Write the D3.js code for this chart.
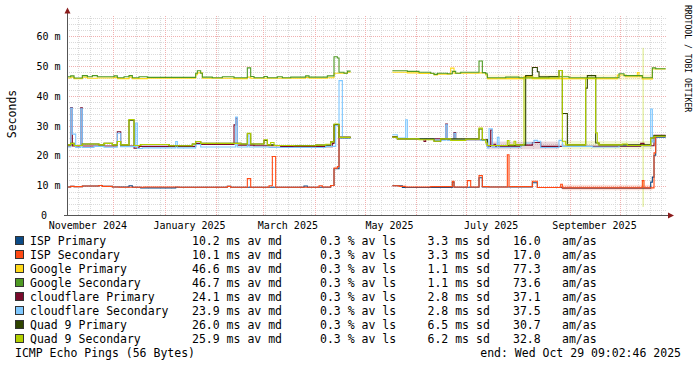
<!DOCTYPE html>
<html><head><meta charset="utf-8">
<script src="https://cdn.jsdelivr.net/npm/d3@7"></script>
<style>
html,body{margin:0;padding:0;background:#fff;}
svg{display:block;}
text{font-family:"DejaVu Sans Mono",monospace;fill:#000;}
</style></head><body>
<svg id="chart" width="697" height="367"></svg>
<script>
// ---------------- DATA ----------------
const domainStart = "2024-11-03T19";
const domainEnd = "2025-10-29T19";
const yMax = 67;
const yTicks = [0, 10, 20, 30, 40, 50, 60];
const yTickLabels = ["0", "10 m", "20 m", "30 m", "40 m", "50 m", "60 m"];
const xLabelDates = ["2024-11-16", "2025-01-16", "2025-03-16", "2025-05-16", "2025-07-16", "2025-09-16"];
const xLabelTexts = ["November 2024", "January 2025", "March 2025", "May 2025", "July 2025", "September 2025"];

const names = ["ISP Primary", "ISP Secondary", "Google Primary", "Google Secondary",
  "cloudflare Primary", "cloudflare Secondary", "Quad 9 Primary", "Quad 9 Secondary"];
const colors = ["#0b4a86", "#ff4a14", "#ffd91a", "#4f9a24", "#7a0a2c", "#7fc8ff", "#2f4400", "#b2d000"];
const medians = [10.2, 10.1, 46.6, 46.7, 24.1, 23.9, 26.0, 25.9];
const losses = [0.3, 0.3, 0.3, 0.3, 0.3, 0.3, 0.3, 0.3];
const sds = [3.3, 3.3, 1.1, 1.1, 2.8, 2.8, 6.5, 6.2];
const amas = [16.0, 17.0, 77.3, 73.6, 37.1, 37.5, 30.7, 32.8];

// median latency in ms, step breakpoints [date, value]; null = no data
const ispPrimary = [["2024-11-04",9.4],["2024-11-06",9.6],["2024-11-08",9.5],["2024-11-13",9.7],["2024-11-23",9.9],["2024-11-25",9.6],["2024-12-01",9.4],["2024-12-11",9.8],["2024-12-13",9.3],["2024-12-18",9.1],["2025-01-08",9.3],["2025-02-08",9.6],["2025-02-10",9.3],["2025-03-26",9.7],["2025-03-28",9.3],["2025-04-11",9.9],["2025-04-13",15.5],["2025-04-16",25.8],["2025-04-23",null],
  ["2025-05-18",9.8],["2025-05-24",9.2],["2025-06-23",11.0],["2025-06-24",9.3],["2025-07-09",12.5],["2025-07-11",9.4],["2025-08-10",10.8],["2025-08-13",9.2],["2025-08-28",9.0],["2025-10-20",11.0],["2025-10-21",12.7],["2025-10-22",20.0],["2025-10-23",26.1],["2025-10-29",26.1]];
const ispSecondary = [["2024-11-04",9.4],["2024-11-06",9.6],["2024-11-08",9.5],["2024-11-13",9.7],["2024-11-23",9.9],["2024-11-25",9.6],["2024-12-01",9.4],["2024-12-05",9.3],["2024-12-20",9.4],["2025-01-10",9.3],["2025-02-08",9.6],["2025-02-10",9.3],["2025-02-20",12.2],["2025-02-22",9.3],["2025-03-05",9.8],["2025-03-07",19.6],["2025-03-09",9.3],["2025-04-04",9.8],["2025-04-06",9.4],["2025-04-11",9.9],["2025-04-13",15.7],["2025-04-15",16.2],["2025-04-16",26.0],["2025-04-23",null],
  ["2025-05-18",9.8],["2025-05-22",9.6],["2025-05-26",9.4],["2025-06-10",9.5],["2025-06-23",11.3],["2025-06-24",9.4],["2025-07-02",11.5],["2025-07-04",9.4],["2025-07-09",13.2],["2025-07-11",9.5],["2025-07-15",9.4],["2025-07-26",20.2],["2025-07-27",9.5],["2025-08-10",11.3],["2025-08-13",9.2],["2025-08-27",10.3],["2025-08-28",9.1],["2025-10-15",11.5],["2025-10-16",9.1],["2025-10-22",20.8],["2025-10-23",26.3],["2025-10-29",26.3]];
const googlePrimary = [["2024-11-04",45.9],["2024-11-06",46.2],["2024-11-08",45.7],["2024-11-13",46.2],["2024-11-16",45.8],["2024-11-22",45.9],["2024-12-02",46.1],["2024-12-04",45.7],["2024-12-11",46.2],["2024-12-13",45.7],["2024-12-22",45.8],["2025-01-20",47.0],["2025-01-21",47.6],["2025-01-24",45.8],["2025-02-12",45.7],["2025-02-20",46.2],["2025-02-22",45.8],["2025-03-27",46.1],["2025-03-29",45.8],["2025-04-09",46.0],["2025-04-13",47.5],["2025-04-21",47.8],["2025-04-23",null],
  ["2025-05-18",47.8],["2025-05-27",47.6],["2025-06-03",47.4],["2025-06-12",46.9],["2025-06-14",47.2],["2025-06-22",49.2],["2025-06-24",47.5],["2025-07-09",47.6],["2025-07-13",46.9],["2025-07-14",45.7],["2025-08-05",46.4],["2025-08-10",45.7],["2025-09-30",46.9],["2025-10-05",46.3],["2025-10-12",47.7],["2025-10-13",46.3],["2025-10-15",45.6],["2025-10-21",48.9],["2025-10-29",48.9]];
const googleSecondary = [["2024-11-04",46.3],["2024-11-06",46.6],["2024-11-08",45.9],["2024-11-13",46.7],["2024-11-16",46.3],["2024-11-19",46.7],["2024-11-22",46.3],["2024-12-02",46.6],["2024-12-04",46.0],["2024-12-08",46.3],["2024-12-11",46.7],["2024-12-13",46.0],["2024-12-17",46.3],["2024-12-22",46.1],["2025-01-20",47.5],["2025-01-21",48.3],["2025-01-23",47.5],["2025-01-24",46.2],["2025-01-30",46.0],["2025-02-05",46.3],["2025-02-12",46.0],["2025-02-20",49.3],["2025-02-22",46.4],["2025-02-24",46.0],["2025-03-02",46.4],["2025-03-04",46.0],["2025-03-10",46.3],["2025-03-13",46.0],["2025-03-18",46.2],["2025-03-27",46.6],["2025-03-29",46.2],["2025-04-09",46.6],["2025-04-13",53.0],["2025-04-15",52.6],["2025-04-16",47.8],["2025-04-19",47.5],["2025-04-21",48.2],["2025-04-23",null],
  ["2025-05-18",48.3],["2025-05-27",48.1],["2025-06-03",47.8],["2025-06-10",47.5],["2025-06-12",47.1],["2025-06-14",47.5],["2025-06-20",47.3],["2025-06-23",48.1],["2025-06-25",47.5],["2025-06-28",47.8],["2025-07-09",51.6],["2025-07-11",47.7],["2025-07-13",47.3],["2025-07-14",46.0],["2025-07-25",46.2],["2025-08-02",46.0],["2025-08-20",46.3],["2025-09-01",46.0],["2025-10-01",47.3],["2025-10-04",46.7],["2025-10-15",46.0],["2025-10-21",49.3],["2025-10-23",49.0],["2025-10-29",49.0]];
const cloudflarePrimary = [["2024-11-04",23.1],["2024-11-06",36.0],["2024-11-07",23.1],["2024-11-12",35.9],["2024-11-13",23.1],["2024-12-04",27.9],["2024-12-06",23.1],["2024-12-14",22.4],["2024-12-17",23.0],["2025-01-20",24.0],["2025-01-23",23.6],["2025-02-12",30.2],["2025-02-13",32.5],["2025-02-14",23.4],["2025-02-24",23.2],["2025-03-12",22.9],["2025-04-12",24.0],["2025-04-13",30.0],["2025-04-16",26.0],["2025-04-23",null],
  ["2025-05-18",26.3],["2025-05-21",25.6],["2025-06-06",24.6],["2025-06-07",25.5],["2025-06-19",30.5],["2025-06-20",25.2],["2025-06-24",27.6],["2025-06-25",25.2],["2025-07-14",23.0],["2025-07-16",28.5],["2025-07-17",23.2],["2025-07-18",23.7],["2025-07-19",23.0],["2025-08-03",23.4],["2025-08-10",24.3],["2025-08-15",23.0],["2025-10-14",24.0],["2025-10-16",23.2],["2025-10-22",26.7],["2025-10-29",26.7]];
const cloudflareSecondary = [["2024-11-04",22.8],["2024-11-06",35.8],["2024-11-07",27.1],["2024-11-09",22.6],["2024-11-12",35.6],["2024-11-13",22.6],["2024-11-20",23.0],["2024-11-26",22.7],["2024-12-04",27.4],["2024-12-06",22.9],["2024-12-15",30.8],["2024-12-16",22.3],["2024-12-19",22.5],["2025-01-08",24.6],["2025-01-09",22.5],["2025-01-20",23.6],["2025-01-23",22.8],["2025-02-13",32.8],["2025-02-14",22.8],["2025-02-20",26.5],["2025-02-21",22.8],["2025-03-05",22.6],["2025-04-08",23.0],["2025-04-14",30.0],["2025-04-16",45.0],["2025-04-18",26.0],["2025-04-23",null],
  ["2025-05-18",26.9],["2025-05-21",25.8],["2025-05-26",31.9],["2025-05-27",25.6],["2025-06-06",25.5],["2025-06-12",25.1],["2025-06-19",30.2],["2025-06-20",25.1],["2025-06-24",27.4],["2025-06-25",25.2],["2025-07-10",25.0],["2025-07-14",22.5],["2025-07-15",28.9],["2025-07-17",22.7],["2025-07-20",26.0],["2025-07-21",22.7],["2025-08-03",23.2],["2025-08-05",24.1],["2025-08-11",25.0],["2025-08-13",24.7],["2025-08-15",22.6],["2025-08-26",25.0],["2025-08-28",23.0],["2025-09-15",22.8],["2025-10-01",23.2],["2025-10-20",35.5],["2025-10-21",24.5],["2025-10-22",26.5],["2025-10-29",26.5]];
const quad9Primary = [["2024-11-04",23.5],["2024-11-06",24.0],["2024-11-08",23.3],["2024-11-13",23.8],["2024-11-23",23.5],["2024-11-26",24.0],["2024-12-01",23.5],["2024-12-04",24.6],["2024-12-06",23.5],["2024-12-11",31.8],["2024-12-14",23.3],["2024-12-18",23.6],["2025-01-04",23.2],["2025-01-18",23.8],["2025-01-20",24.6],["2025-01-23",24.0],["2025-02-16",23.8],["2025-02-20",27.2],["2025-02-22",23.8],["2025-03-02",25.0],["2025-03-04",23.5],["2025-03-08",23.3],["2025-04-02",23.4],["2025-04-11",24.5],["2025-04-13",30.3],["2025-04-16",26.0],["2025-04-23",null],
  ["2025-05-18",26.1],["2025-05-21",25.5],["2025-06-12",24.7],["2025-06-16",25.5],["2025-07-09",28.8],["2025-07-11",25.2],["2025-07-14",23.3],["2025-07-31",23.5],["2025-08-06",46.7],["2025-08-10",49.4],["2025-08-13",48.0],["2025-08-14",46.3],["2025-08-26",48.4],["2025-08-28",34.0],["2025-08-31",23.5],["2025-09-11",42.5],["2025-09-12",46.7],["2025-09-17",24.1],["2025-09-19",23.5],["2025-10-20",25.8],["2025-10-22",26.6],["2025-10-29",26.6]];
const quad9Secondary = [["2024-11-04",23.5],["2024-11-06",24.0],["2024-11-08",23.3],["2024-11-13",23.8],["2024-11-23",23.5],["2024-11-26",24.0],["2024-12-01",23.5],["2024-12-04",24.6],["2024-12-06",23.5],["2024-12-11",32.0],["2024-12-14",23.3],["2024-12-18",23.6],["2025-01-04",23.2],["2025-01-18",23.8],["2025-01-20",24.6],["2025-01-23",24.0],["2025-02-16",23.8],["2025-02-20",27.4],["2025-02-22",23.8],["2025-03-02",25.2],["2025-03-04",23.5],["2025-03-06",24.3],["2025-03-08",23.3],["2025-03-20",23.2],["2025-04-02",23.4],["2025-04-08",23.7],["2025-04-11",24.5],["2025-04-13",30.5],["2025-04-16",26.0],["2025-04-23",null],
  ["2025-05-18",26.1],["2025-05-21",25.5],["2025-06-03",25.2],["2025-06-12",24.7],["2025-06-16",25.5],["2025-06-22",25.0],["2025-07-01",25.4],["2025-07-09",29.1],["2025-07-11",25.2],["2025-07-13",24.1],["2025-07-14",23.3],["2025-07-26",24.9],["2025-07-27",23.5],["2025-07-30",24.7],["2025-07-31",23.5],["2025-08-05",45.9],["2025-08-26",48.4],["2025-08-28",24.7],["2025-08-30",23.5],["2025-09-11",45.8],["2025-09-17",27.5],["2025-09-18",24.1],["2025-09-19",23.5],["2025-10-03",23.8],["2025-10-06",23.3],["2025-10-20",25.8],["2025-10-22",26.4],["2025-10-29",26.4]];

// smoke (spread) bands: [series index, from, to, low ms, high ms]
const smoke = [[2,"2025-07-14","2025-10-21",45.2,47.0],[1,"2025-08-28","2025-10-21",8.3,10.1],[7,"2025-08-28","2025-10-21",22.0,24.8],[4,"2025-07-14","2025-08-26",22.0,24.6],[7,"2025-10-15","2025-10-16",2.7,56.0]];

const footerLeft = "ICMP Echo Pings (56 Bytes)";
const footerRight = "end: Wed Oct 29 09:02:46 2025";
const watermark = "RRDTOOL / TOBI OETIKER";
const yTitle = "Seconds";

// ---------------- DRAW ----------------
const series = [ispPrimary, ispSecondary, googlePrimary, googleSecondary, cloudflarePrimary, cloudflareSecondary, quad9Primary, quad9Secondary];
const parseDay = d3.timeParse("%Y-%m-%d");
const parseHour = d3.timeParse("%Y-%m-%dT%H");
const svg = d3.select("#chart");
const x = d3.scaleTime().domain([parseHour(domainStart), parseHour(domainEnd)]).range([67, 667]);
const y = d3.scaleLinear().domain([0, yMax]).range([215, 15]);
const [x0, x1] = x.range();

// grid via axes
function gridStyle(g, color) {
  g.select(".domain").remove();
  g.selectAll("line").attr("stroke", color).attr("stroke-dasharray", "1,1").attr("shape-rendering", "crispEdges");
  g.selectAll("text").remove();
}
const weeks = d3.timeSunday.range(x.domain()[0], x.domain()[1]);
const months = d3.timeMonth.range(x.domain()[0], x.domain()[1]);
const minorY = d3.range(2, yMax, 2).filter(v => v % 10 !== 0);
const majorY = yTicks.filter(v => v > 0);
svg.append("g").attr("transform", "translate(0.5,215)")
  .call(d3.axisBottom(x).tickValues(weeks).tickSize(-200).tickSizeOuter(0)).call(g => gridStyle(g, "#dadada"));
svg.append("g").attr("transform", "translate(67,0.5)")
  .call(d3.axisLeft(y).tickValues(minorY).tickSize(-(x1 - x0)).tickSizeOuter(0)).call(g => gridStyle(g, "#dadada"));
svg.append("g").attr("transform", "translate(0.5,215)")
  .call(d3.axisBottom(x).tickValues(months).tickSize(-200).tickSizeOuter(0)).call(g => gridStyle(g, "#f0b0b0"));
svg.append("g").attr("transform", "translate(67,0.5)")
  .call(d3.axisLeft(y).tickValues(majorY).tickSize(-(x1 - x0)).tickSizeOuter(0)).call(g => gridStyle(g, "#f0b0b0"));

// smoke
svg.append("g").selectAll("rect").data(smoke).join("rect")
  .attr("x", d => x(parseDay(d[1])))
  .attr("width", d => Math.max(1, x(parseDay(d[2])) - x(parseDay(d[1]))))
  .attr("y", d => y(d[4]))
  .attr("height", d => y(d[3]) - y(d[4]))
  .attr("fill", d => colors[d[0]])
  .attr("opacity", d => d[4] - d[3] > 20 ? 0.3 : 0.16);

// lines
function toPoints(arr) {
  const pts = [];
  arr.forEach((d, i) => {
    const t = parseDay(d[0]);
    if (d[1] === null && i > 0 && arr[i - 1][1] !== null) pts.push({ t, v: arr[i - 1][1] });
    pts.push({ t, v: d[1] });
  });
  return pts;
}
const line = d3.line().curve(d3.curveStepAfter).defined(d => d.v !== null).x(d => x(d.t)).y(d => y(d.v));
svg.append("g").selectAll("path").data(series).join("path")
  .attr("d", d => line(toPoints(d)))
  .attr("fill", "none")
  .attr("stroke", (d, i) => colors[i])
  .attr("stroke-width", 1.1);

// axes lines + arrows
svg.append("line").attr("x1", 67.5).attr("x2", 67.5).attr("y1", 216).attr("y2", 12).attr("stroke", "#555").attr("shape-rendering", "crispEdges");
svg.append("line").attr("x1", 64).attr("x2", 669).attr("y1", 215.5).attr("y2", 215.5).attr("stroke", "#555").attr("shape-rendering", "crispEdges");
svg.append("path").attr("d", "M64.5,13.5L70.5,13.5L67.5,7.5Z").attr("fill", "#8b1c1c");
svg.append("path").attr("d", "M668,212.5L668,218.5L674,215.5Z").attr("fill", "#8b1c1c");

// axis labels via d3 axes
const yAxisG = svg.append("g").attr("transform", "translate(67,0)")
  .call(d3.axisLeft(y).tickValues(yTicks).tickSize(0).tickPadding(6.5).tickFormat((d, i) => yTickLabels[i]));
yAxisG.select(".domain").remove();
yAxisG.selectAll("text").attr("font-family", "DejaVu Sans Mono").attr("font-size", "10px").attr("fill", "#111").attr("dy", "0.36em")
  .attr("x", d => d === 0 ? -20 : -6.5);
const xLabelVals = xLabelDates.map(parseDay);
const xAxisG = svg.append("g").attr("transform", "translate(0,215)")
  .call(d3.axisBottom(x).tickValues(xLabelVals).tickSize(0).tickPadding(0).tickFormat((d, i) => xLabelTexts[i]));
xAxisG.select(".domain").remove();
xAxisG.selectAll("text").attr("font-family", "DejaVu Sans Mono").attr("font-size", "10px").attr("fill", "#111").attr("dy", null).attr("y", 14);

svg.append("text").attr("transform", "translate(15.5,114) rotate(-90)").attr("text-anchor", "middle")
  .attr("font-size", "11.5px").attr("fill", "#111").text(yTitle);
svg.append("text").attr("transform", "translate(685,5) rotate(90)").attr("text-anchor", "start")
  .attr("font-size", "8.1px").attr("fill", "#a8a8a8").text(watermark);

// legend
const lg = svg.append("g").attr("font-size", "11.5px");
names.forEach((n, i) => {
  const base = 245 + 14 * i;
  lg.append("rect").attr("x", 15.5).attr("y", base - 8.5).attr("width", 8).attr("height", 8)
    .attr("fill", colors[i]).attr("stroke", "#333").attr("stroke-width", 1);
  lg.append("text").attr("x", 30).attr("y", base).text(n);
  lg.append("text").attr("x", 192).attr("y", base).text(medians[i].toFixed(1) + " ms av md");
  lg.append("text").attr("x", 320).attr("y", base).text(losses[i].toFixed(1) + " % av ls");
  lg.append("text").attr("x", 427.5).attr("y", base).text(sds[i].toFixed(1) + " ms sd");
  lg.append("text").attr("x", 513).attr("y", base).text(amas[i].toFixed(1));
  lg.append("text").attr("x", 562).attr("y", base).text("am/as");
});
lg.append("text").attr("x", 15).attr("y", 357).text(footerLeft);
lg.append("text").attr("x", 681).attr("y", 357).attr("text-anchor", "end").text(footerRight);
</script>
</body></html>
